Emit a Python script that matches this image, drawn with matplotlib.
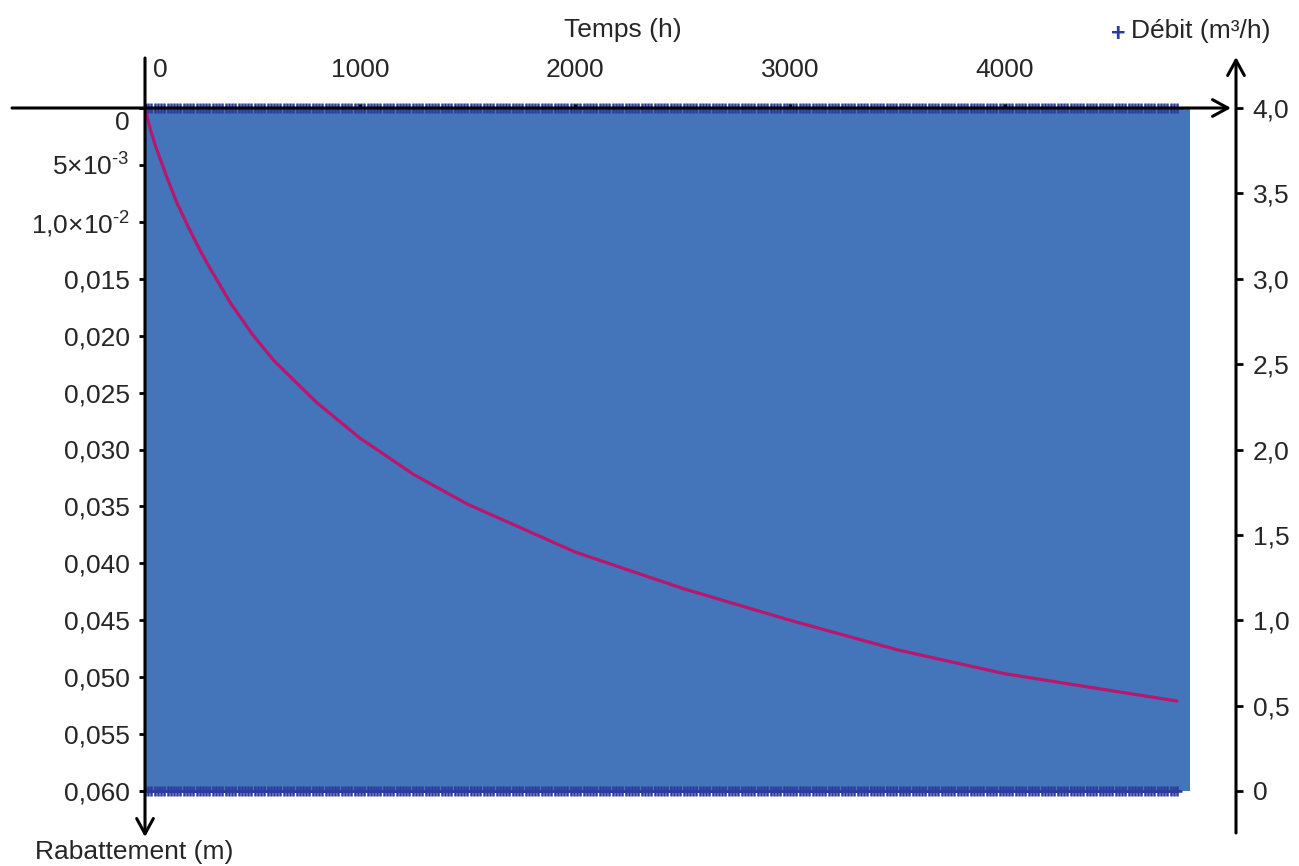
import numpy as np
import matplotlib
matplotlib.use("Agg")
import matplotlib.pyplot as plt
from matplotlib.transforms import ScaledTranslation

plt.rcParams['font.family'] = ['Liberation Sans', 'DejaVu Sans']
plt.rcParams['mathtext.fontset'] = 'custom'
plt.rcParams['mathtext.rm'] = 'Liberation Sans'
plt.rcParams['mathtext.default'] = 'regular'

# drawdown (rabattement) curve
temps = [0, 25, 50, 100, 150, 200, 256, 300, 400, 500, 600, 800, 1000, 1250,
         1500, 2000, 2500, 3000, 3500, 4000, 4500, 4800]
rabattement = [0.0, 0.0019, 0.0034, 0.0060, 0.0084, 0.0104, 0.0125, 0.0140,
               0.0172, 0.0199, 0.0222, 0.0259, 0.0290, 0.0322, 0.0348,
               0.0390, 0.0422, 0.0450, 0.0476, 0.0497, 0.0512, 0.0521]

# pumping rate samples: on at 4.0 m3/h, every 15 h
debit_t = np.arange(0, 4801, 15)
debit_on = 4.0
debit_off = 0.0

x_ticks = [0, 1000, 2000, 3000, 4000]
x_labels = ['0', '1000', '2000', '3000', '4000']
left_ticks = [0, 0.005, 0.010, 0.015, 0.020, 0.025, 0.030, 0.035, 0.040,
              0.045, 0.050, 0.055, 0.060]
left_labels = ['0', r'5×10$^{\text{-3}}$', r'1,0×10$^{\text{-2}}$', '0,015',
               '0,020', '0,025', '0,030', '0,035', '0,040', '0,045', '0,050',
               '0,055', '0,060']
right_ticks = [0, 0.5, 1.0, 1.5, 2.0, 2.5, 3.0, 3.5, 4.0]
right_labels = ['0', '0,5', '1,0', '1,5', '2,0', '2,5', '3,0', '3,5', '4,0']

fill_col = '#4474ba'
mark_col = '#2d3c9c'
curve_col = '#b8176e'
txt_col = '#262626'
fs = 19

fig = plt.figure(figsize=(12.99, 8.66), dpi=100)
W, H = 1047, 683
ax = fig.add_axes([145 / 1299, 1 - 791 / 866, W / 1299, H / 866])
ax2 = ax.twinx()
ax.set_zorder(ax2.get_zorder() + 1)
ax.patch.set_visible(False)

# debit as dense pulses -> looks like a solid block
ax2.bar(debit_t, np.full(len(debit_t), debit_on), width=60, align='edge',
        color=fill_col, linewidth=0)
ax2.plot(debit_t, np.full(len(debit_t), debit_on), '+', color=mark_col,
         ms=7, mew=1.8, clip_on=False)
ax2.plot(debit_t, np.full(len(debit_t), debit_off), '+', color=mark_col,
         ms=7, mew=1.8, clip_on=False)
ax2.set_ylim(0, 4.0)

ax.plot(temps, rabattement, color=curve_col, lw=2.3, solid_capstyle='round',
        solid_joinstyle='round')
ax.set_xlim(0, 4870)
ax.set_ylim(0.060, 0)

for a in (ax, ax2):
    for s in a.spines.values():
        s.set_visible(False)

ax.xaxis.tick_top()
ax.set_xticks(x_ticks)
ax.set_xticklabels(x_labels, fontsize=fs, color=txt_col)
ax.tick_params(axis='x', direction='out', length=3, width=2, pad=16)
ax.set_yticks(left_ticks)
ax.set_yticklabels(left_labels, fontsize=fs, color=txt_col)
ax.tick_params(axis='y', direction='out', length=4, width=2, pad=7)

ax2.spines['right'].set_position(('axes', (1236 - 145) / W))
ax2.set_yticks(right_ticks)
ax2.set_yticklabels(right_labels, fontsize=fs, color=txt_col)
ax2.tick_params(axis='y', direction='out', length=5, width=2, pad=7)

# nudge the two "0" labels off the axis lines
t0 = ax.xaxis.get_major_ticks()[0].label2
t0.set_transform(t0.get_transform() + ScaledTranslation(0.15, 0, fig.dpi_scale_trans))
y0 = ax.yaxis.get_major_ticks()[0].label1
y0.set_transform(y0.get_transform() + ScaledTranslation(0, -0.13, fig.dpi_scale_trans))


def fx(px):
    return (px - 145) / W


def fy(py):
    return (791 - py) / H


arrow = dict(arrowstyle='->,head_length=1.1,head_width=0.6', lw=2.2,
             color='black', mutation_scale=10, shrinkA=0, shrinkB=0)
# time axis (top), drawdown axis (left), debit axis (right)
ax.annotate('', xy=(fx(1231), 1), xytext=(fx(12), 1),
            xycoords='axes fraction', arrowprops=arrow, annotation_clip=False)
ax.annotate('', xy=(0, fy(837)), xytext=(0, fy(58)),
            xycoords='axes fraction', arrowprops=arrow, annotation_clip=False)
ax.annotate('', xy=(fx(1236), fy(57)), xytext=(fx(1236), fy(833)),
            xycoords='axes fraction', arrowprops=arrow, annotation_clip=False)

fig.text(623 / 1299, 1 - 30 / 866, 'Temps (h)', fontsize=fs, color=txt_col,
         ha='center', va='center')
fig.text(1118 / 1299, 1 - 34 / 866, '+', fontsize=18, color=mark_col,
         fontweight='bold', ha='center', va='center')
fig.text(1131 / 1299, 1 - 31 / 866, 'Débit (m³/h)', fontsize=fs,
         color=txt_col, ha='left', va='center')
fig.text(35 / 1299, 1 - 852 / 866, 'Rabattement (m)', fontsize=fs,
         color=txt_col, ha='left', va='center')

fig.savefig('out.png', dpi=100)
